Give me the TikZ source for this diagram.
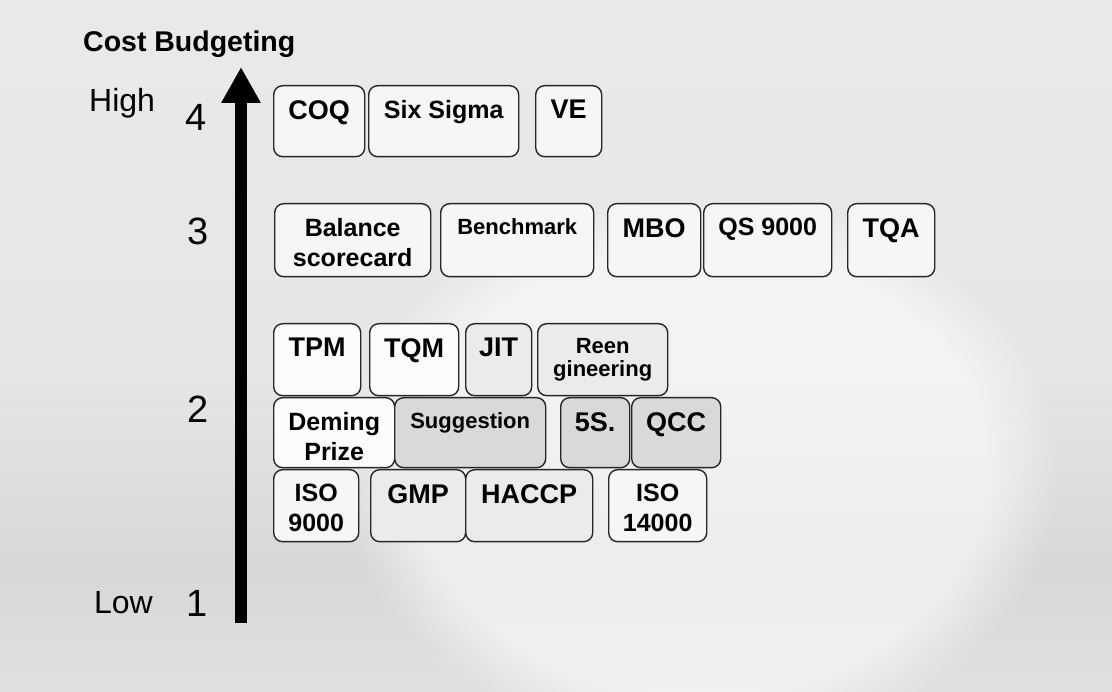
\documentclass[tikz,border=0pt]{standalone}
\usepackage{fontspec}
\setmainfont{Liberation Sans}
\usepackage{tikz}
\usetikzlibrary{arrows.meta,positioning,fadings}

% scanned paper look
\pgfdeclareverticalshading{scan}{100bp}{color(0bp)=(gray!36); color(8bp)=(gray!30); color(22bp)=(gray!22); color(34bp)=(gray!31); color(48bp)=(gray!20); color(100bp)=(gray!14)}

\begin{document}
\begin{tikzpicture}[x=1pt, y=-1pt,
  box/.style={draw=black!85, line width=1.4pt, rounded corners=9pt, anchor=north west, inner sep=0pt, fill=gray!7},
  pale/.style={fill=gray!2},
  dim/.style={fill=gray!16},
  dark/.style={fill=gray!30},
  big/.style={anchor=north, yshift=-15pt, inner sep=0pt, align=center, font=\bfseries\fontsize{27}{30}\selectfont},
  mid/.style={anchor=north, yshift=-15pt, inner sep=0pt, align=center, font=\bfseries\fontsize{25}{30}\selectfont},
  small/.style={anchor=north, yshift=-15pt, inner sep=0pt, align=center, font=\bfseries\fontsize{22}{23}\selectfont},
  level/.style={inner sep=0pt, font=\fontsize{38}{40}\selectfont},
  side/.style={inner sep=0pt, font=\fontsize{32}{34}\selectfont},
  axis/.style={line width=12pt, -{Triangle[length=36pt, width=37pt]}}
]
\useasboundingbox (0,0) rectangle (1112,692);
\shade[shading=scan] (0,0) rectangle (1112,692);
\fill[white, opacity=0.55, path fading=circle with fuzzy edge 20 percent] (700,470) ellipse (360 and 280);

% axis
\node[anchor=base west, inner sep=0pt, font=\bfseries\fontsize{28.5}{30}\selectfont] (title) at (83,52) {Cost Budgeting};
\coordinate (foot) at (241,623);
\coordinate (peak) at (241,67);
\draw[axis] (foot) -- (peak);

\node[side, anchor=base west] (high) at (89,112) {High};
\node[side, anchor=base east] (low) at (153,613) {Low};
\node[level] (four) at (196,117) {4};
\node[level] (three) at (198,231) {3};
\node[level] (two) at (198,409) {2};
\node[level] (one) at (197,603) {1};

% level 4
\node[box, minimum width=91pt, minimum height=71pt, label={[big]north:COQ}] (coq) at (273,85) {};
\node[box, minimum width=150pt, minimum height=71pt, label={[mid]north:Six Sigma}] (sixsigma) at (368,85) {};
\node[box, minimum width=66pt, minimum height=71pt, label={[big]north:VE}] (ve) at (535,85) {};

% level 3
\node[box, minimum width=156pt, minimum height=73pt, label={[mid]north:{Balance\\scorecard}}] (balance) at (274,203) {};
\node[box, minimum width=153pt, minimum height=73pt, label={[small]north:Benchmark}] (benchmark) at (440,203) {};
\node[box, minimum width=93pt, minimum height=73pt, label={[big]north:MBO}] (mbo) at (607,203) {};
\node[box, minimum width=128pt, minimum height=73pt, label={[mid]north:QS 9000}] (qs) at (703,203) {};
\node[box, minimum width=87pt, minimum height=73pt, label={[big]north:TQA}] (tqa) at (847,203) {};

% level 2
\node[box, pale, minimum width=87pt, minimum height=72pt, label={[big]north:TPM}] (tpm) at (273,323) {};
\node[box, pale, minimum width=89pt, minimum height=72pt, label={[big]north:TQM}] (tqm) at (369,323) {};
\node[box, dim, minimum width=66pt, minimum height=72pt, label={[big]north:JIT}] (jit) at (465,323) {};
\node[box, dim, minimum width=130pt, minimum height=72pt, label={[small]north:{Reen\\gineering}}] (reen) at (537,323) {};

\node[box, pale, minimum width=121pt, minimum height=70pt, label={[mid]north:{Deming\\Prize}}] (deming) at (273,397) {};
\node[box, dark, minimum width=151pt, minimum height=70pt, label={[small]north:Suggestion}] (suggestion) at (394,397) {};
\node[box, dark, minimum width=69pt, minimum height=70pt, label={[big]north:5S.}] (fives) at (560,397) {};
\node[box, dark, minimum width=89pt, minimum height=70pt, label={[big]north:QCC}] (qcc) at (631,397) {};

% level 1-2
\node[box, minimum width=85pt, minimum height=72pt, label={[mid]north:{ISO\\9000}}] (isonine) at (273,469) {};
\node[box, dim, minimum width=95pt, minimum height=72pt, label={[big]north:GMP}] (gmp) at (370,469) {};
\node[box, dim, minimum width=127pt, minimum height=72pt, label={[big]north:HACCP}] (haccp) at (465,469) {};
\node[box, minimum width=98pt, minimum height=72pt, label={[mid]north:{ISO\\14000}}] (isofourteen) at (608,469) {};
\end{tikzpicture}
\end{document}
